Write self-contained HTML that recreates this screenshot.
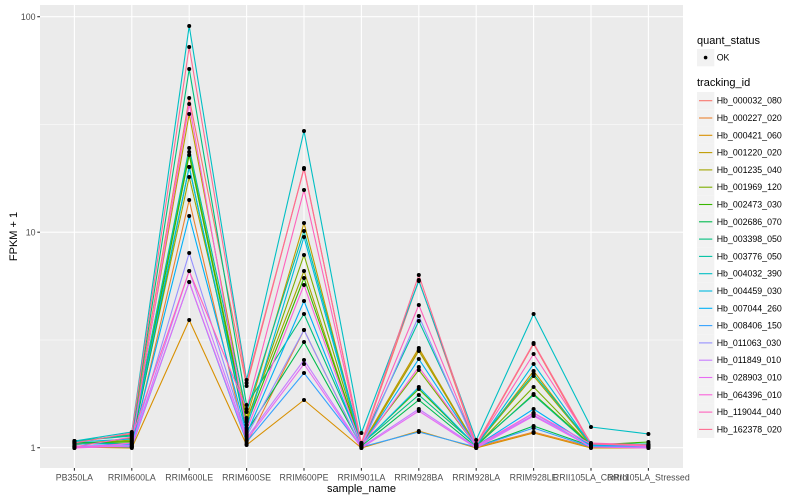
<!DOCTYPE html>
<html><head><meta charset="utf-8"><style>
html,body{margin:0;padding:0;background:#fff;}
svg{display:block;font-family:"Liberation Sans",Arial,sans-serif;}
</style></head><body>
<svg width="800" height="500" viewBox="0 0 800 500" xmlns="http://www.w3.org/2000/svg">
<defs>
<marker id="pt" markerUnits="userSpaceOnUse" markerWidth="6" markerHeight="6" refX="3" refY="3" viewBox="0 0 6 6"><circle cx="3" cy="3" r="2" fill="#000"/></marker>
</defs>
<rect x="0" y="0" width="800" height="500" fill="#fff"/>
<rect x="40" y="5" width="643" height="463" fill="#EBEBEB"/>
<g stroke="#fff" stroke-width="0.55" fill="none">
<line x1="40" x2="683" y1="124.4" y2="124.4"/>
<line x1="40" x2="683" y1="340" y2="340"/>
</g>
<g stroke="#fff" stroke-width="1.1" fill="none">
<line x1="40" x2="683" y1="16.7" y2="16.7"/>
<line x1="40" x2="683" y1="232.2" y2="232.2"/>
<line x1="40" x2="683" y1="447.7" y2="447.7"/>
<line x1="74.4" x2="74.4" y1="5" y2="468"/>
<line x1="131.8" x2="131.8" y1="5" y2="468"/>
<line x1="189.2" x2="189.2" y1="5" y2="468"/>
<line x1="246.6" x2="246.6" y1="5" y2="468"/>
<line x1="304" x2="304" y1="5" y2="468"/>
<line x1="361.4" x2="361.4" y1="5" y2="468"/>
<line x1="418.8" x2="418.8" y1="5" y2="468"/>
<line x1="476.2" x2="476.2" y1="5" y2="468"/>
<line x1="533.6" x2="533.6" y1="5" y2="468"/>
<line x1="591" x2="591" y1="5" y2="468"/>
<line x1="648.4" x2="648.4" y1="5" y2="468"/>
</g>
<g fill="none" stroke-width="1.1" stroke-linejoin="round">
<polyline stroke="#F8766D" points="74.4,442 131.8,434 189.2,98 246.6,386 304,168 361.4,444 418.8,280 476.2,445 533.6,344 591,446 648.4,446"/>
<polyline stroke="#EA8331" points="74.4,446 131.8,447 189.2,200 246.6,444 304,330 361.4,447 418.8,350 476.2,447 533.6,432 591,447 648.4,447"/>
<polyline stroke="#D89000" points="74.4,447 131.8,448 189.2,320 246.6,445 304,400 361.4,448 418.8,431 476.2,448 533.6,433 591,448 648.4,448"/>
<polyline stroke="#C09B00" points="74.4,445 131.8,438 189.2,114 246.6,418 304,223 361.4,445 418.8,348 476.2,446 533.6,371 591,446 648.4,447"/>
<polyline stroke="#A3A500" points="74.4,444 131.8,440 189.2,177 246.6,420 304,271 361.4,446 418.8,351 476.2,445 533.6,376 591,445 648.4,446"/>
<polyline stroke="#7CAE00" points="74.4,443 131.8,441 189.2,152 246.6,422 304,255 361.4,445 418.8,370 476.2,446 533.6,387 591,446 648.4,445"/>
<polyline stroke="#39B600" points="74.4,443 131.8,442 189.2,155 246.6,425 304,278 361.4,444 418.8,389 476.2,446 533.6,394 591,445 648.4,442"/>
<polyline stroke="#00BB4E" points="74.4,442 131.8,444 189.2,167 246.6,432 304,342 361.4,446 418.8,400 476.2,447 533.6,426 591,446 648.4,445"/>
<polyline stroke="#00BF7D" points="74.4,441 131.8,435 189.2,69 246.6,405 304,314 361.4,444 418.8,395 476.2,445 533.6,395 591,446 648.4,446"/>
<polyline stroke="#00C1A3" points="74.4,441 131.8,436 189.2,148 246.6,412 304,231 361.4,443 418.8,321 476.2,444 533.6,374 591,444 648.4,444"/>
<polyline stroke="#00BFC4" points="74.4,441 131.8,432 189.2,26 246.6,380 304,131 361.4,433 418.8,281 476.2,440 533.6,314 591,427 648.4,434"/>
<polyline stroke="#00BAE0" points="74.4,442 131.8,439 189.2,167 246.6,428 304,237 361.4,445 418.8,387 476.2,446 533.6,364 591,445 648.4,446"/>
<polyline stroke="#00B0F6" points="74.4,444 131.8,444 189.2,216 246.6,434 304,301 361.4,446 418.8,359 476.2,446 533.6,409 591,446 648.4,446"/>
<polyline stroke="#35A2FF" points="74.4,446 131.8,447 189.2,282 246.6,442 304,373 361.4,447 418.8,432 476.2,447 533.6,428 591,447 648.4,447"/>
<polyline stroke="#9590FF" points="74.4,446 131.8,445 189.2,253 246.6,436 304,330 361.4,447 418.8,316 476.2,447 533.6,413 591,447 648.4,447"/>
<polyline stroke="#C77CFF" points="74.4,447 131.8,446 189.2,271 246.6,438 304,360 361.4,447 418.8,409 476.2,447 533.6,415 591,447 648.4,447"/>
<polyline stroke="#E76BF3" points="74.4,448 131.8,446 189.2,282 246.6,440 304,364 361.4,448 418.8,411 476.2,448 533.6,416 591,447 648.4,448"/>
<polyline stroke="#FA62DB" points="74.4,448 131.8,443 189.2,104 246.6,430 304,285 361.4,446 418.8,367 476.2,446 533.6,413 591,444 648.4,446"/>
<polyline stroke="#FF62BC" points="74.4,447 131.8,437 189.2,271 246.6,409 304,190 361.4,444 418.8,305 476.2,445 533.6,354 591,443 648.4,445"/>
<polyline stroke="#FF6C91" points="74.4,443 131.8,433 189.2,47 246.6,383 304,169 361.4,443 418.8,275 476.2,444 533.6,343 591,444 648.4,445"/>
</g>
<g fill="none" stroke="none">
<polyline marker-start="url(#pt)" marker-mid="url(#pt)" marker-end="url(#pt)" points="74.4,442 131.8,434 189.2,98 246.6,386 304,168 361.4,444 418.8,280 476.2,445 533.6,344 591,446 648.4,446"/>
<polyline marker-start="url(#pt)" marker-mid="url(#pt)" marker-end="url(#pt)" points="74.4,446 131.8,447 189.2,200 246.6,444 304,330 361.4,447 418.8,350 476.2,447 533.6,432 591,447 648.4,447"/>
<polyline marker-start="url(#pt)" marker-mid="url(#pt)" marker-end="url(#pt)" points="74.4,447 131.8,448 189.2,320 246.6,445 304,400 361.4,448 418.8,431 476.2,448 533.6,433 591,448 648.4,448"/>
<polyline marker-start="url(#pt)" marker-mid="url(#pt)" marker-end="url(#pt)" points="74.4,445 131.8,438 189.2,114 246.6,418 304,223 361.4,445 418.8,348 476.2,446 533.6,371 591,446 648.4,447"/>
<polyline marker-start="url(#pt)" marker-mid="url(#pt)" marker-end="url(#pt)" points="74.4,444 131.8,440 189.2,177 246.6,420 304,271 361.4,446 418.8,351 476.2,445 533.6,376 591,445 648.4,446"/>
<polyline marker-start="url(#pt)" marker-mid="url(#pt)" marker-end="url(#pt)" points="74.4,443 131.8,441 189.2,152 246.6,422 304,255 361.4,445 418.8,370 476.2,446 533.6,387 591,446 648.4,445"/>
<polyline marker-start="url(#pt)" marker-mid="url(#pt)" marker-end="url(#pt)" points="74.4,443 131.8,442 189.2,155 246.6,425 304,278 361.4,444 418.8,389 476.2,446 533.6,394 591,445 648.4,442"/>
<polyline marker-start="url(#pt)" marker-mid="url(#pt)" marker-end="url(#pt)" points="74.4,442 131.8,444 189.2,167 246.6,432 304,342 361.4,446 418.8,400 476.2,447 533.6,426 591,446 648.4,445"/>
<polyline marker-start="url(#pt)" marker-mid="url(#pt)" marker-end="url(#pt)" points="74.4,441 131.8,435 189.2,69 246.6,405 304,314 361.4,444 418.8,395 476.2,445 533.6,395 591,446 648.4,446"/>
<polyline marker-start="url(#pt)" marker-mid="url(#pt)" marker-end="url(#pt)" points="74.4,441 131.8,436 189.2,148 246.6,412 304,231 361.4,443 418.8,321 476.2,444 533.6,374 591,444 648.4,444"/>
<polyline marker-start="url(#pt)" marker-mid="url(#pt)" marker-end="url(#pt)" points="74.4,441 131.8,432 189.2,26 246.6,380 304,131 361.4,433 418.8,281 476.2,440 533.6,314 591,427 648.4,434"/>
<polyline marker-start="url(#pt)" marker-mid="url(#pt)" marker-end="url(#pt)" points="74.4,442 131.8,439 189.2,167 246.6,428 304,237 361.4,445 418.8,387 476.2,446 533.6,364 591,445 648.4,446"/>
<polyline marker-start="url(#pt)" marker-mid="url(#pt)" marker-end="url(#pt)" points="74.4,444 131.8,444 189.2,216 246.6,434 304,301 361.4,446 418.8,359 476.2,446 533.6,409 591,446 648.4,446"/>
<polyline marker-start="url(#pt)" marker-mid="url(#pt)" marker-end="url(#pt)" points="74.4,446 131.8,447 189.2,282 246.6,442 304,373 361.4,447 418.8,432 476.2,447 533.6,428 591,447 648.4,447"/>
<polyline marker-start="url(#pt)" marker-mid="url(#pt)" marker-end="url(#pt)" points="74.4,446 131.8,445 189.2,253 246.6,436 304,330 361.4,447 418.8,316 476.2,447 533.6,413 591,447 648.4,447"/>
<polyline marker-start="url(#pt)" marker-mid="url(#pt)" marker-end="url(#pt)" points="74.4,447 131.8,446 189.2,271 246.6,438 304,360 361.4,447 418.8,409 476.2,447 533.6,415 591,447 648.4,447"/>
<polyline marker-start="url(#pt)" marker-mid="url(#pt)" marker-end="url(#pt)" points="74.4,448 131.8,446 189.2,282 246.6,440 304,364 361.4,448 418.8,411 476.2,448 533.6,416 591,447 648.4,448"/>
<polyline marker-start="url(#pt)" marker-mid="url(#pt)" marker-end="url(#pt)" points="74.4,448 131.8,443 189.2,104 246.6,430 304,285 361.4,446 418.8,367 476.2,446 533.6,413 591,444 648.4,446"/>
<polyline marker-start="url(#pt)" marker-mid="url(#pt)" marker-end="url(#pt)" points="74.4,447 131.8,437 189.2,271 246.6,409 304,190 361.4,444 418.8,305 476.2,445 533.6,354 591,443 648.4,445"/>
<polyline marker-start="url(#pt)" marker-mid="url(#pt)" marker-end="url(#pt)" points="74.4,443 131.8,433 189.2,47 246.6,383 304,169 361.4,443 418.8,275 476.2,444 533.6,343 591,444 648.4,445"/>
</g>
<g stroke="#333" stroke-width="1.1">
<line x1="37.3" x2="40" y1="16.7" y2="16.7"/>
<line x1="37.3" x2="40" y1="232.2" y2="232.2"/>
<line x1="37.3" x2="40" y1="447.7" y2="447.7"/>
<line x1="74.4" x2="74.4" y1="468" y2="470.7"/>
<line x1="131.8" x2="131.8" y1="468" y2="470.7"/>
<line x1="189.2" x2="189.2" y1="468" y2="470.7"/>
<line x1="246.6" x2="246.6" y1="468" y2="470.7"/>
<line x1="304" x2="304" y1="468" y2="470.7"/>
<line x1="361.4" x2="361.4" y1="468" y2="470.7"/>
<line x1="418.8" x2="418.8" y1="468" y2="470.7"/>
<line x1="476.2" x2="476.2" y1="468" y2="470.7"/>
<line x1="533.6" x2="533.6" y1="468" y2="470.7"/>
<line x1="591" x2="591" y1="468" y2="470.7"/>
<line x1="648.4" x2="648.4" y1="468" y2="470.7"/>
</g>
<g fill="#4D4D4D" font-size="8.8" text-anchor="end">
<text x="35.5" y="19.8">100</text>
<text x="35.5" y="235.3">10</text>
<text x="35.5" y="450.8">1</text>
</g>
<g fill="#4D4D4D" font-size="8.8" text-anchor="middle">
<text x="74.4" y="480.5">PB350LA</text>
<text x="131.8" y="480.5">RRIM600LA</text>
<text x="189.2" y="480.5">RRIM600LE</text>
<text x="246.6" y="480.5">RRIM600SE</text>
<text x="304" y="480.5">RRIM600PE</text>
<text x="361.4" y="480.5">RRIM901LA</text>
<text x="418.8" y="480.5">RRIM928BA</text>
<text x="476.2" y="480.5">RRIM928LA</text>
<text x="533.6" y="480.5">RRIM928LE</text>
<text x="591" y="480.5">RRII105LA_Control</text>
<text x="648.4" y="480.5">RRII105LA_Stressed</text>
</g>
<text x="361.5" y="492" font-size="11" text-anchor="middle" fill="#000">sample_name</text>
<text transform="translate(17,236.5) rotate(-90)" font-size="11" text-anchor="middle" fill="#000">FPKM + 1</text>
<text x="697" y="44" font-size="11" fill="#000">quant_status</text>
<rect x="697" y="49" width="17.3" height="17.3" fill="#F2F2F2"/>
<circle cx="705.6" cy="57.6" r="1.8" fill="#000"/>
<text x="716.7" y="60.6" font-size="8.8" fill="#000">OK</text>
<text x="697" y="86" font-size="11" fill="#000">tracking_id</text>
<g fill="#F2F2F2">
<rect x="697" y="92" width="17.3" height="17.3"/><rect x="697" y="109.3" width="17.3" height="17.3"/><rect x="697" y="126.6" width="17.3" height="17.3"/><rect x="697" y="143.9" width="17.3" height="17.3"/><rect x="697" y="161.2" width="17.3" height="17.3"/><rect x="697" y="178.5" width="17.3" height="17.3"/><rect x="697" y="195.8" width="17.3" height="17.3"/><rect x="697" y="213.1" width="17.3" height="17.3"/><rect x="697" y="230.4" width="17.3" height="17.3"/><rect x="697" y="247.7" width="17.3" height="17.3"/><rect x="697" y="265" width="17.3" height="17.3"/><rect x="697" y="282.3" width="17.3" height="17.3"/><rect x="697" y="299.6" width="17.3" height="17.3"/><rect x="697" y="316.9" width="17.3" height="17.3"/><rect x="697" y="334.2" width="17.3" height="17.3"/><rect x="697" y="351.5" width="17.3" height="17.3"/><rect x="697" y="368.8" width="17.3" height="17.3"/><rect x="697" y="386.1" width="17.3" height="17.3"/><rect x="697" y="403.4" width="17.3" height="17.3"/><rect x="697" y="420.7" width="17.3" height="17.3"/>
</g>
<g stroke-width="1.1">
<line x1="699" x2="712.3" y1="100.7" y2="100.7" stroke="#F8766D"/>
<line x1="699" x2="712.3" y1="118" y2="118" stroke="#EA8331"/>
<line x1="699" x2="712.3" y1="135.3" y2="135.3" stroke="#D89000"/>
<line x1="699" x2="712.3" y1="152.6" y2="152.6" stroke="#C09B00"/>
<line x1="699" x2="712.3" y1="169.9" y2="169.9" stroke="#A3A500"/>
<line x1="699" x2="712.3" y1="187.2" y2="187.2" stroke="#7CAE00"/>
<line x1="699" x2="712.3" y1="204.5" y2="204.5" stroke="#39B600"/>
<line x1="699" x2="712.3" y1="221.8" y2="221.8" stroke="#00BB4E"/>
<line x1="699" x2="712.3" y1="239.1" y2="239.1" stroke="#00BF7D"/>
<line x1="699" x2="712.3" y1="256.4" y2="256.4" stroke="#00C1A3"/>
<line x1="699" x2="712.3" y1="273.7" y2="273.7" stroke="#00BFC4"/>
<line x1="699" x2="712.3" y1="291" y2="291" stroke="#00BAE0"/>
<line x1="699" x2="712.3" y1="308.3" y2="308.3" stroke="#00B0F6"/>
<line x1="699" x2="712.3" y1="325.6" y2="325.6" stroke="#35A2FF"/>
<line x1="699" x2="712.3" y1="342.9" y2="342.9" stroke="#9590FF"/>
<line x1="699" x2="712.3" y1="360.2" y2="360.2" stroke="#C77CFF"/>
<line x1="699" x2="712.3" y1="377.5" y2="377.5" stroke="#E76BF3"/>
<line x1="699" x2="712.3" y1="394.8" y2="394.8" stroke="#FA62DB"/>
<line x1="699" x2="712.3" y1="412.1" y2="412.1" stroke="#FF62BC"/>
<line x1="699" x2="712.3" y1="429.4" y2="429.4" stroke="#FF6C91"/>
</g>
<g font-size="8.8" fill="#000">
<text x="716.7" y="103.7">Hb_000032_080</text>
<text x="716.7" y="121">Hb_000227_020</text>
<text x="716.7" y="138.3">Hb_000421_060</text>
<text x="716.7" y="155.6">Hb_001220_020</text>
<text x="716.7" y="172.9">Hb_001235_040</text>
<text x="716.7" y="190.2">Hb_001969_120</text>
<text x="716.7" y="207.5">Hb_002473_030</text>
<text x="716.7" y="224.8">Hb_002686_070</text>
<text x="716.7" y="242.1">Hb_003398_050</text>
<text x="716.7" y="259.4">Hb_003776_050</text>
<text x="716.7" y="276.7">Hb_004032_390</text>
<text x="716.7" y="294">Hb_004459_030</text>
<text x="716.7" y="311.3">Hb_007044_260</text>
<text x="716.7" y="328.6">Hb_008406_150</text>
<text x="716.7" y="345.9">Hb_011063_030</text>
<text x="716.7" y="363.2">Hb_011849_010</text>
<text x="716.7" y="380.5">Hb_028903_010</text>
<text x="716.7" y="397.8">Hb_064396_010</text>
<text x="716.7" y="415.1">Hb_119044_040</text>
<text x="716.7" y="432.4">Hb_162378_020</text>
</g>
</svg>
</body></html>
